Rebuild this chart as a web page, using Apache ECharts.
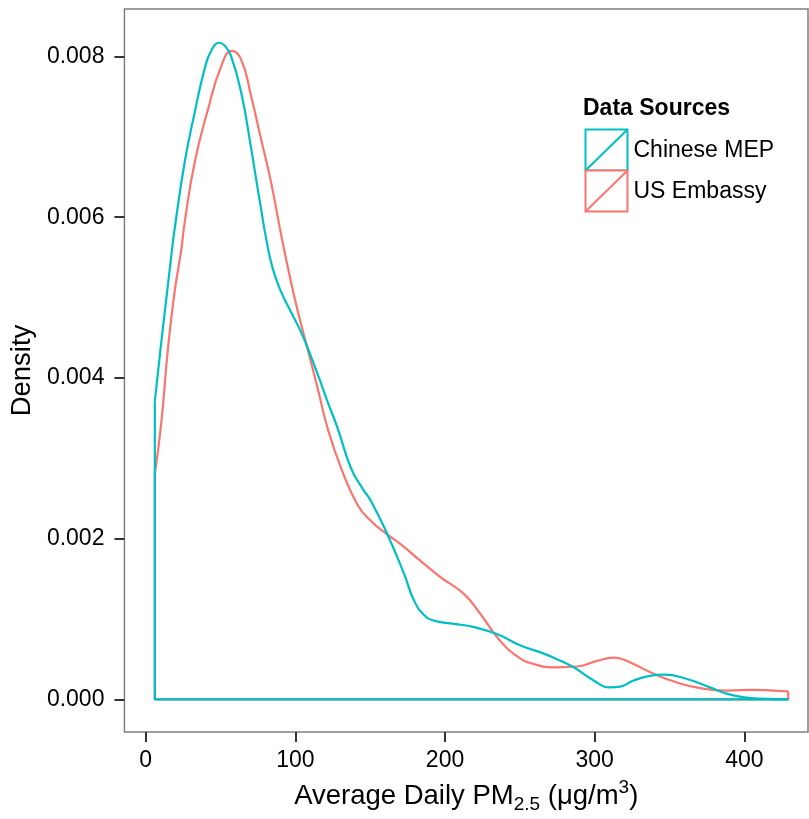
<!DOCTYPE html>
<html>
<head>
<meta charset="utf-8">
<script src="https://cdn.jsdelivr.net/npm/echarts@6/dist/echarts.min.js"></script>
<style>
  html, body { margin: 0; padding: 0; background: #fff; }
  #chart { width: 809px; height: 819px; }
</style>
</head>
<body>
<div id="chart"></div>
<script>
// density curves: [PM2.5, density]
const mepCurve = [
  [6.1, 0.00371], [10, 0.00438], [13.8, 0.00499], [17.1, 0.00552], [19.3, 0.00585],
  [26, 0.00668], [32.7, 0.0073], [39.3, 0.00784], [44, 0.00808], [49.3, 0.00817],
  [53, 0.00813], [57.1, 0.008], [63.8, 0.00755], [70.5, 0.00685], [73.8, 0.00647],
  [77.1, 0.0061], [80.5, 0.00573], [84.9, 0.00536], [90.5, 0.00507], [97.1, 0.00482],
  [103.8, 0.00457], [109.3, 0.00432], [116, 0.00399], [121, 0.00373], [128.3, 0.00337],
  [137.1, 0.00288], [145, 0.00262], [150.5, 0.00247], [161.6, 0.00205], [172.7, 0.00156],
  [179.3, 0.00123], [186, 0.00105], [192.7, 0.00098], [206, 0.00094], [219.3, 0.0009],
  [235, 0.00081], [250.5, 0.00067], [266, 0.00057], [277.1, 0.00048], [286, 0.0004],
  [299.3, 0.000235], [310.5, 0.00015], [317, 0.00016], [326, 0.000235], [336, 0.00029],
  [346, 0.00031], [361.6, 0.000255], [377, 0.00015], [392.7, 0.00005], [410.5, 0.00001],
  [429.3, 0]
];
const usCurve = [
  [6.1, 0.0028], [10.5, 0.00346], [14.9, 0.00437], [19.3, 0.00507], [23.8, 0.0056],
  [26, 0.00593], [32.7, 0.00668], [41.6, 0.00734], [50.5, 0.00788], [57.6, 0.00807],
  [63.8, 0.00796], [70.5, 0.0075], [77.1, 0.00697], [83.8, 0.00643], [90.5, 0.00578],
  [97.1, 0.00519], [102, 0.0048], [108.3, 0.00435], [114.9, 0.00387], [121.6, 0.00337],
  [130.5, 0.00288], [141.6, 0.00242], [150.5, 0.00222], [161.6, 0.00205], [170.5, 0.00193],
  [183.8, 0.00172], [197.1, 0.00152], [212.7, 0.00131], [223.8, 0.00106], [235, 0.00077],
  [246, 0.000565], [259.3, 0.00044], [275, 0.0004], [288.3, 0.00041], [301.6, 0.00048],
  [312.7, 0.00052], [317, 0.00051], [326, 0.00044], [339.3, 0.00032], [355, 0.00021],
  [370.5, 0.00014], [388.3, 0.00011], [406, 0.00012], [419.3, 0.00011], [429.3, 0.0001]
];
// closing edges of each density outline (vertical sides and baseline)
const mepEdges = [[429.3, 0], [6.1, 0], [6.1, 0.00371]];
const usEdges = [[6.1, 0.0028], [6.1, 0], [429.3, 0], [429.3, 0.0001]];

const xTicks = [0, 100, 200, 300, 400];
const yTicks = [0, 0.002, 0.004, 0.006, 0.008];
const sourceNames = ['Chinese MEP', 'US Embassy'];
const sourceColors = ['#00BFC4', '#F8766D'];

const chart = echarts.init(document.getElementById('chart'));
const font = 'Liberation Sans, Arial, sans-serif';

const lineSeries = (data, color, smooth) => ({
  type: 'line',
  data: data,
  smooth: smooth,
  showSymbol: false,
  silent: true,
  animation: false,
  lineStyle: { color: color, width: 2.2 },
  clip: false
});

const option = {
  backgroundColor: '#fff',
  textStyle: { fontFamily: font },
  grid: {
    left: 123, top: 9, right: 1, bottom: 84,
    show: true, borderColor: '#7f7f7f', borderWidth: 1.5, backgroundColor: '#fff'
  },
  xAxis: {
    type: 'value',
    min: -14.2,
    max: 442.5,
    axisLine: { show: false, onZero: false },
    splitLine: { show: false },
    axisTick: { show: true, length: 10, customValues: xTicks, lineStyle: { color: '#333', width: 2 } },
    axisLabel: { customValues: xTicks, fontSize: 23, color: '#000', margin: 17, fontFamily: font },
    name: '{t|Average Daily PM}{sub|2.5}{t| (\u03bcg/m}{sup|3}{t|)}',
    nameLocation: 'middle',
    nameGap: 46,
    nameTextStyle: {
      rich: {
        t: { fontSize: 27.5, lineHeight: 36, color: '#000', fontFamily: font },
        sub: { fontSize: 19, lineHeight: 18, verticalAlign: 'bottom', color: '#000', fontFamily: font },
        sup: { fontSize: 19, lineHeight: 20, verticalAlign: 'top', color: '#000', fontFamily: font }
      }
    }
  },
  yAxis: {
    type: 'value',
    min: -0.000405,
    max: 0.00859,
    axisLine: { show: false, onZero: false },
    splitLine: { show: false },
    axisTick: { show: true, length: 10, customValues: yTicks, lineStyle: { color: '#333', width: 2 } },
    axisLabel: {
      customValues: yTicks, fontSize: 23, color: '#000', margin: 20, fontFamily: font,
      formatter: v => v.toFixed(3)
    },
    name: 'Density',
    nameLocation: 'middle',
    nameGap: 74,
    nameTextStyle: { fontSize: 27.5, color: '#000', fontFamily: font }
  },
  series: [
    lineSeries(usCurve, sourceColors[1], 0.5),
    lineSeries(usEdges, sourceColors[1], false),
    lineSeries(mepCurve, sourceColors[0], 0.5),
    lineSeries(mepEdges, sourceColors[0], false)
  ],
  graphic: [
    {
      type: 'text', left: 583, top: 97,
      style: { text: 'Data Sources', font: 'bold 23px ' + font, fill: '#000' }
    },
    ...sourceNames.map((name, i) => ({
      type: 'group', left: 583, top: 127 + i * 41,
      children: [
        { type: 'rect', shape: { x: 0, y: 0, width: 42, height: 41 },
          style: { fill: '#fff', stroke: sourceColors[i], lineWidth: 2 } },
        { type: 'line', shape: { x1: 0, y1: 41, x2: 42, y2: 0 },
          style: { stroke: sourceColors[i], lineWidth: 2 } },
        { type: 'text', x: 48, y: 21,
          style: { text: name, font: '23px ' + font, fill: '#000', verticalAlign: 'middle' } }
      ]
    }))
  ]
};

chart.setOption(option);
</script>
</body>
</html>
